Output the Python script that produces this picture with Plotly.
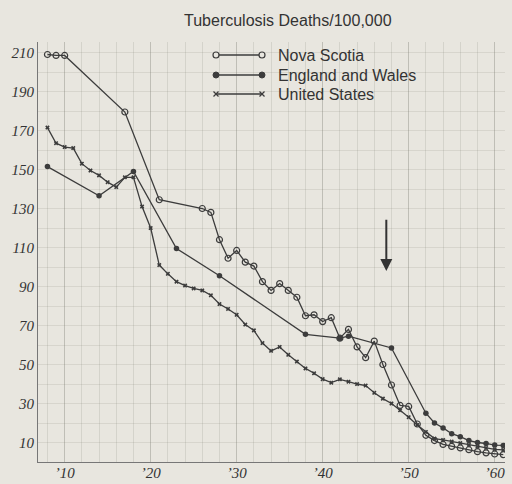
import plotly.graph_objects as go

# Nova Scotia (open circles)
ns_years = [1908, 1909, 1910, 1917, 1921, 1926, 1927, 1928, 1929, 1930, 1931, 1932, 1933, 1934,
            1935, 1936, 1937, 1938, 1939, 1940, 1941, 1942, 1943, 1944, 1945, 1946, 1947, 1948,
            1949, 1950, 1951, 1952, 1953, 1954, 1955, 1956, 1957, 1958, 1959, 1960, 1961]
ns_vals = [209, 208.5, 208.5, 179.5, 134.5, 130, 128, 114, 104.5, 108.5, 102.5, 100.5, 92.5, 88,
           91.5, 88, 84.5, 75, 75.5, 72, 74, 63.5, 68, 59, 53.5, 62, 50, 39.5,
           29, 28.5, 19.5, 13.7, 11, 9, 8, 7.2, 6.3, 5.3, 4.7, 4.1, 3.8]

# England and Wales (filled dots)
ew_years = [1908, 1914, 1918, 1923, 1928, 1938, 1942, 1943, 1948, 1952, 1953, 1954, 1955, 1956,
            1957, 1958, 1959, 1960, 1961]
ew_vals = [151.5, 136.5, 149, 109.5, 95.5, 65.5, 63.5, 64.5, 58.5, 25, 20, 17.5, 14.5, 13,
           11, 10, 9.5, 8.7, 8.5]

# United States (x marks)
us_years = list(range(1908, 1962))
us_vals = [171.5, 163.5, 161.5, 161, 153, 149.5, 147, 143.5, 141, 146, 146, 131, 120, 101,
           96.5, 92.5, 90.5, 89, 88, 85.5, 81, 78.5, 75.5, 70.5, 67.5, 61, 57, 59,
           55, 51.5, 48, 45.5, 42.5, 40.7, 42.4, 41.2, 40, 39.2, 35.5, 32.5, 30, 26.5,
           23, 19, 15.4, 12, 11.3, 10.5, 9.7, 8.8, 7.9, 7.2, 6.5, 6.2]

series_names = ["Nova Scotia", "England and Wales", "United States"]
x_tickvals = [1910, 1920, 1930, 1940, 1950, 1960]
x_ticktext = ["\u201910", "\u201920", "\u201930", "\u201940", "\u201950", "\u201960"]
y_tickvals = [10, 30, 50, 70, 90, 110, 130, 150, 170, 190, 210]

bg = "#e8e6df"
ink = "#3c3c3c"

W, H = 512, 484
ML, MR, MT, MB = 38, 7, 42, 22
PW, PH = W - ML - MR, H - MT - MB


def px(x):
    return (x - ML) / PW


def py(y):
    return (H - MB - y) / PH


fig = go.Figure()
fig.add_trace(go.Scatter(
    x=ns_years, y=ns_vals, name=series_names[0], mode="lines+markers",
    line=dict(color=ink, width=1.3),
    marker=dict(symbol="circle-open", size=6, color=ink, line=dict(width=1.2)),
))
fig.add_trace(go.Scatter(
    x=ew_years, y=ew_vals, name=series_names[1], mode="lines+markers",
    line=dict(color=ink, width=1.3),
    marker=dict(symbol="circle", size=5.5, color=ink),
))
fig.add_trace(go.Scatter(
    x=us_years, y=us_vals, name=series_names[2], mode="lines+markers",
    line=dict(color=ink, width=1.3),
    marker=dict(symbol="x", size=4, color=ink),
))

# arrow
fig.add_annotation(
    x=1947.4, y=98, ax=1947.4, ay=125, xref="x", yref="y", axref="x", ayref="y",
    text="", showarrow=True, arrowhead=2, arrowsize=1.2, arrowwidth=2, arrowcolor="#333",
)
# title
fig.add_annotation(
    x=px(288), y=py(21), xref="paper", yref="paper", text="Tuberculosis Deaths/100,000",
    showarrow=False, font=dict(family="Liberation Sans, Arial", size=16, color="#333"),
    xanchor="center", yanchor="middle",
)

# hand-made legend (line sample with a marker at each end)
leg_x0, leg_x1, leg_text_x = 216, 262, 276
leg_rows = [55, 75, 94]
for i, (name, yy) in enumerate(zip(series_names, leg_rows)):
    fig.add_shape(type="line", xref="paper", yref="paper",
                  x0=px(leg_x0), x1=px(leg_x1), y0=py(yy), y1=py(yy),
                  line=dict(color=ink, width=1.3))
    for xx in (leg_x0, leg_x1):
        if i == 0:
            fig.add_shape(type="circle", xref="paper", yref="paper",
                          x0=px(xx - 3), x1=px(xx + 3), y0=py(yy + 3), y1=py(yy - 3),
                          line=dict(color=ink, width=1.2), fillcolor=bg)
        elif i == 1:
            fig.add_shape(type="circle", xref="paper", yref="paper",
                          x0=px(xx - 3), x1=px(xx + 3), y0=py(yy + 3), y1=py(yy - 3),
                          line=dict(color=ink, width=1), fillcolor=ink)
        else:
            for d in (1, -1):
                fig.add_shape(type="line", xref="paper", yref="paper",
                              x0=px(xx - 2.5), x1=px(xx + 2.5),
                              y0=py(yy - 2.5 * d), y1=py(yy + 2.5 * d),
                              line=dict(color=ink, width=1.3))
    fig.add_annotation(x=px(leg_text_x), y=py(yy), xref="paper", yref="paper", text=name,
                       showarrow=False, xanchor="left", yanchor="middle",
                       font=dict(family="Liberation Sans, Arial", size=16, color="#333"))

fig.update_layout(
    width=W, height=H,
    margin=dict(l=ML, r=MR, t=MT, b=MB, autoexpand=False),
    paper_bgcolor=bg, plot_bgcolor=bg,
    showlegend=False,
    xaxis=dict(range=[1906.9, 1961.2], tickvals=x_tickvals, ticktext=x_ticktext,
               automargin=False,
               showgrid=True, gridcolor="rgba(110,110,100,0.2)", gridwidth=1,
               minor=dict(dtick=2, tick0=1910, showgrid=True, gridcolor="rgba(110,110,100,0.16)"),
               showline=True, linecolor="#777", linewidth=1, zeroline=False, ticks="",
               ticklabelstandoff=-3,
               tickfont=dict(family="Liberation Serif", size=15, color="#333", style="italic")),
    yaxis=dict(range=[0, 215.4], tickvals=y_tickvals, automargin=False,
               showgrid=False,
               minor=dict(dtick=10, tick0=0, showgrid=True, gridcolor="rgba(110,110,100,0.14)"),
               showline=True, linecolor="#777", linewidth=1, zeroline=False, ticks="",
               tickfont=dict(family="Liberation Serif", size=15, color="#333", style="italic")),
)

fig.write_html("out.html", config={"displayModeBar": False},
               post_script="document.body.style.margin='0';document.body.style.background='%s';" % bg)
